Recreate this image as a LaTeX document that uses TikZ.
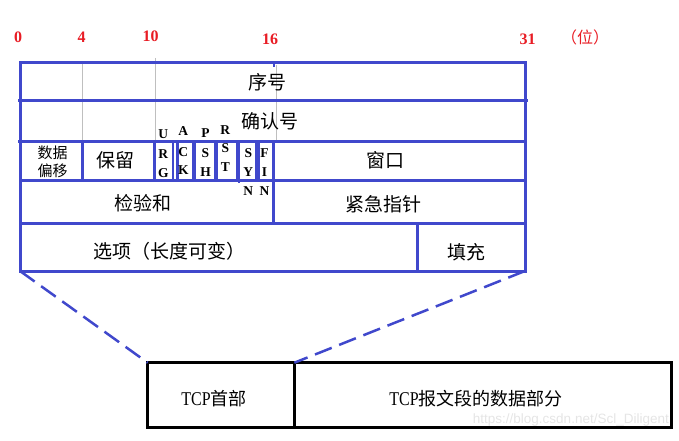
\documentclass[tikz,border=0pt]{standalone}
\usepackage{fontspec}
\setmainfont{Liberation Serif}
\newfontfamily\cjk{Noto Sans CJK SC}
\newfontfamily\latn[FakeStretch=0.82]{Liberation Serif}
\newfontfamily\wmfont{Liberation Sans}
\definecolor{fb}{RGB}{64,72,204}
\definecolor{rd}{RGB}{232,28,36}
\begin{document}
\begin{tikzpicture}[x=1pt,y=-1pt,
  frame/.style={draw=fb,line width=3pt},
  flagline/.style={draw=fb,line width=2.5pt},
  guide/.style={draw=black!25,line width=1pt},
  cn/.style={font=\cjk\fontsize{19}{21}\selectfont,inner sep=0pt},
  cnsmall/.style={font=\cjk\fontsize{15}{18}\selectfont,inner sep=0pt,align=center},
  flag/.style={font=\bfseries\fontsize{13.5}{13.5}\selectfont,inner sep=0pt},
  bitnum/.style={font=\bfseries\fontsize{16}{16}\selectfont,text=rd,inner sep=0pt},
  part/.style={draw=black,line width=3pt,outer sep=0pt,inner sep=0pt},
  zoomline/.style={draw=fb,line width=2.5pt,dash pattern=on 18pt off 8pt},
]
\useasboundingbox (0,0) rectangle (679,441);

% bit numbers
\node[bitnum] (b0) at (18,37) {0};
\node[bitnum] (b4) at (81.7,37) {4};
\node[bitnum] (b10) at (150.7,36.5) {10};
\node[bitnum] (b16) at (270,39.5) {16};
\node[bitnum] (b31) at (527.7,39) {31};
\node[font=\cjk\fontsize{16}{16}\selectfont,text=rd,inner sep=0pt] (unit) at (585,37.5) {（位）};

% guide lines
\draw[guide] (82,63) -- (82,141);
\draw[guide] (155,58) -- (155,141);
\draw[guide] (276,65) -- (276,141);

% frame
\draw[frame] (20,63) rectangle (525,271);
\draw[frame] (18,101) -- (528,101);
\draw[frame] (18,141) -- (525,141);
\draw[frame] (20,180) -- (525,180);
\draw[frame] (20,223) -- (525,223);
\draw[frame] (82,141) -- (82,180);
\draw[frame] (273.3,141) -- (273.3,223);
\draw[frame] (417.3,223) -- (417.3,271);
\draw[fb,line width=2pt] (274,63) -- (274,67);

% flag boxes
\foreach \xa/\xb in {154.3/173,177.7/193.3,195/215,216.7/237.3,239/256,258.3/273.3}{
  \draw[flagline] (\xa,141) -- (\xa,180);
  \draw[flagline] (\xb,141) -- (\xb,180);
}
\draw[flagline] (239,180) -- (239,182.5);

% flag letters
\node[flag] (fu1) at (163.3,134.3) {U};
\node[flag] (fu2) at (163.3,154.3) {R};
\node[flag] (fu3) at (163.3,172.7) {G};
\node[flag] (fa1) at (183.3,130.7) {A};
\node[flag] (fa2) at (183.3,151.7) {C};
\node[flag] (fa3) at (183.3,170) {K};
\node[flag] (fp1) at (205.5,133.3) {P};
\node[flag] (fp2) at (205.5,153.3) {S};
\node[flag] (fp3) at (205.5,172.3) {H};
\node[flag] (fr1) at (225.3,130) {R};
\node[flag] (fr2) at (225.3,148.3) {S};
\node[flag] (fr3) at (225.3,167.3) {T};
\node[flag] (fs1) at (248.3,153.3) {S};
\node[flag] (fs2) at (248.3,172.3) {Y};
\node[flag] (fs3) at (248.3,190.7) {N};
\node[flag] (ff1) at (264.5,153.3) {F};
\node[flag] (ff2) at (264.5,172.3) {I};
\node[flag] (ff3) at (264.5,190.7) {N};

% field labels
\node[cn] (seq) at (267.5,82) {序号};
\node[cn] (ack) at (269.5,121) {确认号};
\node[cnsmall] (off) at (52.5,162) {数据\\偏移};
\node[cn] (rsv) at (115.7,160) {保留};
\node[cn] (win) at (385.8,160.5) {窗口};
\node[cn] (chk) at (143,203.5) {检验和};
\node[cn] (urg) at (383,204) {紧急指针};
\node[cn] (opt) at (169,251) {选项（长度可变）};
\node[cn] (pad) at (466,252.5) {填充};

% bottom segment
\node[part,minimum width=146.7pt,minimum height=65pt] (hdr) at (221,395.2) {};
\node[part,minimum width=376.7pt,minimum height=65pt] (data) at (482.7,395.2) {};
\node[cn,font=\cjk\fontsize{18}{20}\selectfont] (hdrtxt) at (214,399) {{\latn\fontsize{19.5}{20}\selectfont TCP}首部};
\node[cn,font=\cjk\fontsize{18}{20}\selectfont] (datatxt) at (476,399) {{\latn\fontsize{19.5}{20}\selectfont TCP}报文段的数据部分};

% zoom lines
\coordinate (fbl) at (20,271);
\coordinate (fbr) at (525,271);
\draw[zoomline] (fbl) -- (hdr.north west);
\draw[zoomline] (fbr) -- (hdr.north east);

% watermark
\node[font=\wmfont\fontsize{13.5}{14}\selectfont,text=black!10,anchor=east,inner sep=0pt] (wm) at (669,420) {https://blog.csdn.net/Scl\_Diligent};
\end{tikzpicture}
\end{document}
